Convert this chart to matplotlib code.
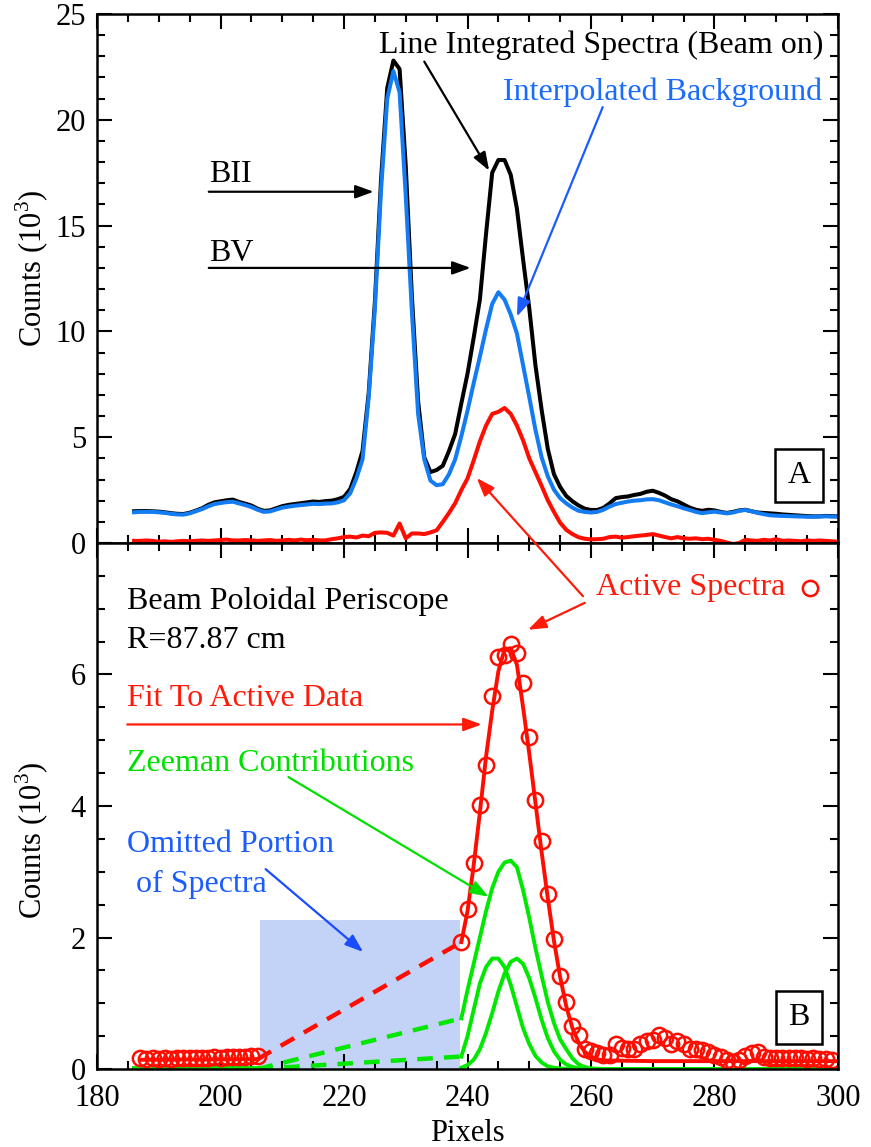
import numpy as np
import matplotlib.pyplot as plt
from matplotlib.patches import ConnectionPatch
from matplotlib.ticker import MultipleLocator

plt.rcParams['font.family'] = ['Liberation Serif', 'DejaVu Serif']
plt.rcParams['mathtext.fontset'] = 'custom'
plt.rcParams['mathtext.rm'] = 'Liberation Serif'

# ------------------------------------------------------------------
# Panel A: line integrated spectra, pixels 186..300
# ------------------------------------------------------------------
pix_a = np.arange(186, 301)

beam_on = [
    1.50, 1.51, 1.51, 1.50, 1.48, 1.45, 1.41, 1.38, 1.37, 1.43,
    1.53, 1.64, 1.80, 1.92, 1.97, 2.02, 2.05, 1.94, 1.86, 1.77,
    1.62, 1.52, 1.54, 1.64, 1.74, 1.80, 1.84, 1.88, 1.92, 1.96,
    1.94, 1.98, 2.00, 2.07, 2.18, 2.55, 3.35, 4.35, 7.10, 11.4,
    17.2, 21.5, 22.8, 22.4, 17.8, 11.6, 6.70, 4.05, 3.35, 3.45,
    3.65, 4.35, 5.15, 6.60, 8.00, 9.70, 11.5, 14.6, 17.5, 18.1,
    18.1, 17.4, 15.8, 13.4, 11.1, 8.40, 6.30, 4.45, 3.25, 2.65,
    2.22, 1.97, 1.77, 1.62, 1.56, 1.56, 1.66, 1.87, 2.12, 2.17,
    2.20, 2.27, 2.32, 2.42, 2.47, 2.37, 2.24, 2.07, 1.97, 1.82,
    1.67, 1.57, 1.52, 1.57, 1.54, 1.47, 1.42, 1.47, 1.54, 1.57,
    1.50, 1.44, 1.42, 1.40, 1.38, 1.35, 1.33, 1.31, 1.29, 1.27,
    1.26, 1.26, 1.28, 1.27, 1.26,
]

background = [
    1.45, 1.47, 1.47, 1.47, 1.45, 1.42, 1.38, 1.35, 1.34, 1.40,
    1.50, 1.60, 1.73, 1.84, 1.89, 1.93, 1.95, 1.87, 1.79, 1.70,
    1.57, 1.47, 1.49, 1.58, 1.67, 1.72, 1.76, 1.79, 1.82, 1.85,
    1.84, 1.86, 1.87, 1.92, 2.02, 2.35, 3.05, 3.95, 6.90, 11.1,
    16.7, 21.0, 22.3, 21.3, 16.4, 10.9, 6.10, 3.95, 2.95, 2.73,
    2.78, 3.25, 3.95, 5.05, 6.25, 7.55, 8.80, 10.1, 11.3, 11.85,
    11.5, 10.8, 9.90, 8.40, 6.90, 5.35, 4.05, 3.15, 2.52, 2.12,
    1.87, 1.67, 1.52, 1.47, 1.44, 1.47, 1.57, 1.72, 1.84, 1.90,
    1.96, 2.00, 2.02, 2.06, 2.07, 2.02, 1.92, 1.82, 1.74, 1.64,
    1.56, 1.47, 1.41, 1.45, 1.48, 1.44, 1.40, 1.44, 1.52, 1.56,
    1.50, 1.42, 1.36, 1.31, 1.29, 1.28, 1.27, 1.26, 1.25, 1.24,
    1.24, 1.25, 1.26, 1.25, 1.25,
]

active_a = [
    0.10, 0.10, 0.12, 0.10, 0.06, 0.08, 0.05, 0.08, 0.10, 0.08,
    0.10, 0.12, 0.10, 0.12, 0.14, 0.16, 0.12, 0.12, 0.14, 0.12,
    0.10, 0.12, 0.14, 0.10, 0.12, 0.15, 0.12, 0.16, 0.13, 0.15,
    0.12, 0.12, 0.18, 0.22, 0.28, 0.30, 0.26, 0.35, 0.32, 0.48,
    0.50, 0.48, 0.35, 0.92, 0.22, 0.45, 0.45, 0.42, 0.50, 0.60,
    1.00, 1.42, 1.88, 2.50, 3.05, 3.90, 4.80, 5.55, 6.10, 6.20,
    6.38, 6.10, 5.55, 4.85, 4.00, 3.35, 2.70, 2.02, 1.47, 0.96,
    0.62, 0.42, 0.27, 0.20, 0.17, 0.18, 0.20, 0.28, 0.30, 0.25,
    0.28, 0.32, 0.35, 0.38, 0.42, 0.35, 0.28, 0.22, 0.28, 0.22,
    0.20, 0.22, 0.18, 0.20, 0.15, 0.10, 0.02, -0.05, 0.00, 0.15,
    0.12, 0.10, 0.15, 0.12, 0.18, 0.10, 0.12, 0.10, 0.08, 0.12,
    0.10, 0.12, 0.10, 0.08, 0.06,
]

# ------------------------------------------------------------------
# Panel B: active spectra and fit
# ------------------------------------------------------------------
pix_left = np.arange(187, 207)
active_left = [0.16, 0.15, 0.16, 0.15, 0.16, 0.15, 0.16, 0.17, 0.16, 0.17,
               0.16, 0.17, 0.18, 0.17, 0.18, 0.19, 0.18, 0.19, 0.20, 0.20]

pix_right = np.arange(239, 300)
active_right = [
    1.93, 2.43, 3.14, 4.01, 4.62, 5.68, 6.26, 6.30, 6.47, 6.32,
    5.87, 5.05, 4.09, 3.47, 2.66, 1.98, 1.42, 1.02, 0.65, 0.52,
    0.31, 0.28, 0.24, 0.21, 0.22, 0.38, 0.32, 0.30, 0.30, 0.38,
    0.43, 0.44, 0.52, 0.47, 0.38, 0.42, 0.38, 0.30, 0.31, 0.29,
    0.26, 0.22, 0.18, 0.14, 0.11, 0.13, 0.20, 0.24, 0.26, 0.19,
    0.16, 0.17, 0.16, 0.16, 0.17, 0.16, 0.15, 0.16, 0.15, 0.15,
    0.14,
]

fit_left_x = [187, 206]
fit_left = [0.14, 0.15]
fit_gap_x = [206, 239]
fit_gap = [0.15, 1.93]
fit_x = [239, 240, 241, 242, 243, 244, 245, 246, 247, 248, 249, 250, 251,
         252, 253, 254, 255, 256, 257, 258, 259, 260, 261, 262, 270, 280,
         290, 300]
fit_y = [1.93, 2.40, 3.10, 3.90, 4.75, 5.45, 6.05, 6.38, 6.40, 6.15, 5.50,
         4.80, 4.05, 3.30, 2.60, 1.95, 1.40, 0.95, 0.62, 0.40, 0.26, 0.19,
         0.15, 0.13, 0.12, 0.12, 0.12, 0.12]

# Zeeman contributions
zee_x = [239, 240, 241, 242, 243, 244, 245, 246, 247, 248, 249, 250, 251,
         252, 253, 254, 255, 256, 257, 258, 259, 260, 262, 300]
zee_sum = [0.77, 1.20, 1.60, 2.00, 2.40, 2.75, 3.00, 3.14, 3.17, 3.07, 2.72,
           2.30, 1.84, 1.42, 1.02, 0.70, 0.45, 0.30, 0.16, 0.07, 0.03, 0.01,
           0.0, 0.0]
zee_low = [0.19, 0.50, 0.90, 1.30, 1.55, 1.68, 1.68, 1.55, 1.28, 0.95, 0.62,
           0.38, 0.20, 0.10, 0.04, 0.02, 0.01, 0.0, 0.0, 0.0, 0.0, 0.0,
           0.0, 0.0]
zee_high = [0.02, 0.06, 0.14, 0.30, 0.55, 0.85, 1.18, 1.45, 1.63, 1.68, 1.60,
            1.38, 1.08, 0.75, 0.47, 0.27, 0.14, 0.07, 0.03, 0.01, 0.0, 0.0,
            0.0, 0.0]
zee_left_x = [186, 206]
zee_left = [0.01, 0.01]
zee_gap_x = [206, 239]
zee_gap_sum = [0.0, 0.77]
zee_gap_low = [0.0, 0.19]

omit_lo, omit_hi, omit_top = 206.4, 238.8, 2.27

RED = '#ff0d00'
BLUE = '#137cf2'
GREEN = '#00e800'

fig = plt.figure(figsize=(8.71, 11.47), dpi=100)
ax_a = fig.add_axes([0.1114, 0.5266, 0.8507, 0.4612])
ax_b = fig.add_axes([0.1114, 0.0680, 0.8507, 0.4586])

# --- panel A ---
ax_a.plot(pix_a, beam_on, color='k', lw=2.9)
ax_a.plot(pix_a, background, color=BLUE, lw=2.9)
ax_a.plot(pix_a, active_a, color=RED, lw=2.9)
ax_a.set_xlim(180, 300)
ax_a.set_ylim(0, 25)

# --- panel B ---
ax_b.fill_between([omit_lo, omit_hi], 0, omit_top, color='#c3d3f8', lw=0,
                  zorder=0.5)
dash = (0, (3.5, 2.5))
ax_b.plot(zee_left_x, zee_left, color=GREEN, lw=2.8)
ax_b.plot(zee_gap_x, zee_gap_sum, color=GREEN, lw=3.2, ls=dash)
ax_b.plot(zee_gap_x, zee_gap_low, color=GREEN, lw=3.2, ls=dash)
ax_b.plot(zee_x, zee_sum, color=GREEN, lw=2.8)
ax_b.plot(zee_x, zee_low, color=GREEN, lw=2.8)
ax_b.plot(zee_x, zee_high, color=GREEN, lw=2.8)
ax_b.plot(fit_left_x, fit_left, color=RED, lw=2.8)
ax_b.plot(fit_gap_x, fit_gap, color=RED, lw=3.2, ls=dash)
ax_b.plot(fit_x, fit_y, color=RED, lw=2.8)
ax_b.plot(pix_left, active_left, 'o', mfc='none', mec=RED, ms=11, mew=1.8)
ax_b.plot(pix_right, active_right, 'o', mfc='none', mec=RED, ms=11, mew=1.8)
ax_b.set_xlim(180, 300)
ax_b.set_ylim(0, 8)

for ax in (ax_a, ax_b):
    ax.xaxis.set_major_locator(MultipleLocator(20))
    ax.xaxis.set_minor_locator(MultipleLocator(5))
    ax.tick_params(which='both', direction='in', top=True, right=True,
                   width=1.5, labelsize=22, pad=8)
    ax.tick_params(which='major', length=11)
    ax.tick_params(which='minor', length=6)
    ax.tick_params(axis='x', which='both', pad=11)
    for s in ax.spines.values():
        s.set_linewidth(1.8)

ax_a.yaxis.set_major_locator(MultipleLocator(5))
ax_a.yaxis.set_minor_locator(MultipleLocator(1))
ax_a.tick_params(labelbottom=False)
ax_b.set_yticks([0, 2, 4, 6, 8])
ax_b.set_yticklabels(['0', '2', '4', '6', ''])
ax_b.yaxis.set_minor_locator(MultipleLocator(0.5))

ax_a.set_ylabel('Counts (10$^3$)', fontsize=22)
ax_a.yaxis.set_label_coords(-0.062, 0.52)
ax_b.set_ylabel('Counts (10$^3$)', fontsize=22)
ax_b.yaxis.set_label_coords(-0.062, 0.435)
ax_b.set_xlabel('Pixels', fontsize=22)
ax_b.xaxis.set_label_coords(0.5, -0.095)

fs = 23
arr = dict(arrowstyle='-|>,head_length=0.55,head_width=0.2',
           mutation_scale=20, lw=1.6, shrinkA=0, shrinkB=0)

# panel A labels
ax_a.text(297.6, 23.5, 'Line Integrated Spectra (Beam on)', fontsize=fs,
          ha='right', va='center')
ax_a.text(297.4, 21.3, 'Interpolated Background', fontsize=fs,
          color='#1a6cff', ha='right', va='center')
ax_a.annotate('', xy=(243.5, 17.6), xytext=(233.0, 22.75),
              arrowprops=dict(color='k', **arr))
ax_a.annotate('', xy=(248.0, 10.7), xytext=(261.9, 20.6),
              arrowprops=dict(color='#1a5cff', **arr))
ax_a.text(198.1, 17.4, 'BII', fontsize=fs, va='center')
ax_a.annotate('', xy=(224.8, 16.6), xytext=(198.1, 16.6),
              arrowprops=dict(color='k', **arr))
ax_a.text(198.1, 13.7, 'BV', fontsize=fs, va='center')
ax_a.annotate('', xy=(240.5, 13.0), xytext=(198.1, 13.0),
              arrowprops=dict(color='k', **arr))
ax_a.text(293.7, 3.2, 'A', fontsize=fs, ha='center', va='center',
          bbox=dict(boxstyle='square,pad=0.38', fc='white', ec='k', lw=1.8))

# panel B labels
ax_b.text(184.9, 7.11, 'Beam Poloidal Periscope', fontsize=fs, va='center')
ax_b.text(184.9, 6.52, 'R=87.87 cm', fontsize=fs, va='center')
ax_b.text(184.9, 5.64, 'Fit To Active Data', fontsize=fs, color='#ff1a0a',
          va='center')
ax_b.annotate('', xy=(242.3, 5.24), xytext=(184.9, 5.24),
              arrowprops=dict(color='#ff1a0a', **arr))
ax_b.text(184.9, 4.65, 'Zeeman Contributions', fontsize=fs, color='#00e000',
          va='center')
ax_b.annotate('', xy=(243.4, 2.62), xytext=(211.0, 4.44),
              arrowprops=dict(color='#00e000', **arr))
ax_b.text(184.9, 3.41, 'Omitted Portion', fontsize=fs, color='#1a5cff',
          va='center')
ax_b.text(186.3, 2.80, 'of Spectra', fontsize=fs, color='#1a5cff',
          va='center')
ax_b.annotate('', xy=(223.1, 1.78), xytext=(207.3, 3.04),
              arrowprops=dict(color='#1a4cff', **arr))
ax_b.text(260.8, 7.32, 'Active Spectra', fontsize=fs, color='#ff1a0a',
          va='center')
ax_b.plot(295.5, 7.32, 'o', mfc='none', mec=RED, ms=11, mew=1.8,
          clip_on=False)
ax_b.annotate('', xy=(249.8, 6.68), xytext=(259.0, 7.09),
              arrowprops=dict(color='#ff1a0a', **arr))
ax_b.text(293.7, 0.78, 'B', fontsize=fs, ha='center', va='center',
          bbox=dict(boxstyle='square,pad=0.38', fc='white', ec='k', lw=1.8))

con = ConnectionPatch(xyA=(258.7, 7.19), coordsA=ax_b.transData,
                      xyB=(241.5, 3.07), coordsB=ax_a.transData,
                      color='#ff1a0a', **arr)
fig.add_artist(con)

fig.savefig('out.png', dpi=100)
